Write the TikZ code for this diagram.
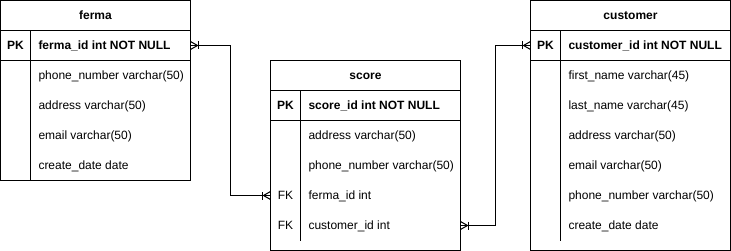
\documentclass[tikz,border=0pt]{standalone}
\usepackage{fontspec}
\setmainfont{Liberation Sans}
\usetikzlibrary{calc}
\begin{document}
\begin{tikzpicture}[x=1pt,y=-1pt,line width=1pt,
  frame/.style={draw=black,line width=1pt},
  rowbox/.style={draw=none,inner sep=0pt,outer sep=0pt,minimum height=30pt},
  title/.style={anchor=base,inner sep=0pt,font=\fontsize{12pt}{14pt}\selectfont\bfseries},
  keylbl/.style={anchor=base,inner sep=0pt,font=\fontsize{12pt}{14pt}\selectfont},
  pkfield/.style={anchor=base west,inner sep=0pt,font=\fontsize{12pt}{14pt}\selectfont\bfseries},
  field/.style={anchor=base west,inner sep=0pt,font=\fontsize{12pt}{14pt}\selectfont},
  link/.style={draw=black,line width=1pt},
  manymark/.pic={\draw[line width=1pt] (0,-4) -- (7,0) -- (0,4); \draw[line width=1pt] (8,-4) -- (8,4);}
]
\fill[white] (0,0) rectangle (731,251);
\useasboundingbox (0,0) rectangle (731,251);

% ---------- ferma ----------
\draw[frame] (0.5,0.5) rectangle (190.5,180.5);
\draw[frame] (0.5,30.5) -- (190.5,30.5);
\draw[frame] (0.5,60.5) -- (190.5,60.5);
\draw[frame] (30.5,30.5) -- (30.5,180.5);
\node[rowbox,minimum width=190pt] (ferma-pk) at (95.5,45.5) {};
\node[title] (ferma-t) at (95.5,19.5) {ferma};
\node[keylbl,font=\fontsize{12pt}{14pt}\selectfont\bfseries] (ferma-k0) at (15.5,49.5) {PK};
\node[pkfield] (ferma-f0) at (38,49.5) {ferma\_id int NOT NULL};
\node[field] (ferma-f1) at (38,79.5) {phone\_number varchar(50)};
\node[field] (ferma-f2) at (38,109.5) {address varchar(50)};
\node[field] (ferma-f3) at (38,139.5) {email varchar(50)};
\node[field] (ferma-f4) at (38,169.5) {create\_date date};

% ---------- score ----------
\draw[frame] (270.5,60.5) rectangle (460.5,250.5);
\draw[frame] (270.5,90.5) -- (460.5,90.5);
\draw[frame] (270.5,120.5) -- (460.5,120.5);
\draw[frame] (300.5,90.5) -- (300.5,240.5);
\node[rowbox,minimum width=190pt] (score-fk1) at (365.5,195.5) {};
\node[rowbox,minimum width=190pt] (score-fk2) at (365.5,225.5) {};
\node[title] (score-t) at (365.5,79.5) {score};
\node[keylbl,font=\fontsize{12pt}{14pt}\selectfont\bfseries] (score-k0) at (285.5,109.5) {PK};
\node[pkfield] (score-f0) at (308,109.5) {score\_id int NOT NULL};
\node[field] (score-f1) at (308,139.5) {address varchar(50)};
\node[field] (score-f2) at (308,169.5) {phone\_number varchar(50)};
\node[keylbl] (score-k3) at (285.5,199.5) {FK};
\node[field] (score-f3) at (308,199.5) {ferma\_id int};
\node[keylbl] (score-k4) at (285.5,229.5) {FK};
\node[field] (score-f4) at (308,229.5) {customer\_id int};

% ---------- customer ----------
\draw[frame] (530.5,0.5) rectangle (730.5,250.5);
\draw[frame] (530.5,30.5) -- (730.5,30.5);
\draw[frame] (530.5,60.5) -- (730.5,60.5);
\draw[frame] (560.5,30.5) -- (560.5,240.5);
\node[rowbox,minimum width=200pt] (customer-pk) at (630.5,45.5) {};
\node[title] (customer-t) at (630.5,19.5) {customer};
\node[keylbl,font=\fontsize{12pt}{14pt}\selectfont\bfseries] (customer-k0) at (545.5,49.5) {PK};
\node[pkfield] (customer-f0) at (568,49.5) {customer\_id int NOT NULL};
\node[field] (customer-f1) at (568,79.5) {first\_name varchar(45)};
\node[field] (customer-f2) at (568,109.5) {last\_name varchar(45)};
\node[field] (customer-f3) at (568,139.5) {address varchar(50)};
\node[field] (customer-f4) at (568,169.5) {email varchar(50)};
\node[field] (customer-f5) at (568,199.5) {phone\_number varchar(50)};
\node[field] (customer-f6) at (568,229.5) {create\_date date};

% ---------- relationships ----------
\draw[link] (ferma-pk.east) -| ($(ferma-pk.east)!0.5!(score-fk1.west)$) |- (score-fk1.west);
\draw[link] (score-fk2.east) -| ($(score-fk2.east)!0.5!(customer-pk.west)$) |- (customer-pk.west);
\pic at (ferma-pk.east) {manymark};
\pic[rotate=180] at (score-fk1.west) {manymark};
\pic at (score-fk2.east) {manymark};
\pic[rotate=180] at (customer-pk.west) {manymark};
\end{tikzpicture}
\end{document}
